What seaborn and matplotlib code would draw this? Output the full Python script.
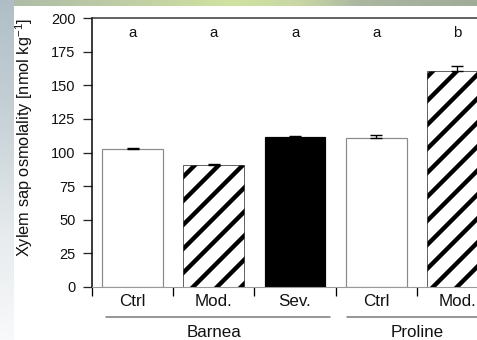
import numpy as np
import pandas as pd
import matplotlib
matplotlib.use("Agg")
import matplotlib.pyplot as plt
import matplotlib.transforms as mtransforms
import seaborn as sns

# ---- data ----
groups = ["Barnea", "Barnea", "Barnea", "Proline", "Proline"]
treatments = ["Ctrl", "Mod.", "Sev.", "Ctrl", "Mod."]
osmolality = [102.5, 90.5, 111.5, 110.5, 160.5]
sem = [0.6, 1.2, 0.6, 2.5, 4.0]
letters = ["a", "a", "a", "a", "b"]
yticks = [0, 25, 50, 75, 100, 125, 150, 175, 200]
group_names = ["Barnea", "Proline"]

DPI = 72
W, H = 477, 340


def pt(px):
    """pixels -> points at the output dpi"""
    return px * 72.0 / DPI


sns.set_style("ticks")
plt.rcParams["font.family"] = ["Liberation Sans", "DejaVu Sans"]
plt.rcParams["mathtext.fontset"] = "custom"
plt.rcParams["mathtext.rm"] = "Liberation Sans"
plt.rcParams["mathtext.default"] = "regular"
plt.rcParams["hatch.linewidth"] = pt(4.4)
plt.rcParams["hatch.color"] = "black"

fig = plt.figure(figsize=(W / DPI, H / DPI), dpi=DPI)

# ---- slide-like background ----
bg = fig.add_axes([0, 0, 1, 1], zorder=-10)
bg.axis("off")
img = np.ones((H, W, 3))
xs = np.arange(W)
top_kx = [0, 120, 230, 300, 360, 476]
top_r = [172, 190, 208, 200, 170, 160]
top_g = [186, 205, 226, 215, 182, 172]
top_b = [168, 165, 160, 165, 160, 152]
for r in range(6):
    img[r, :, 0] = np.interp(xs, top_kx, top_r) / 255
    img[r, :, 1] = np.interp(xs, top_kx, top_g) / 255
    img[r, :, 2] = np.interp(xs, top_kx, top_b) / 255
ys = np.arange(H)
left_ky = [0, 120, 240, 339]
lr = np.interp(ys, left_ky, [175, 200, 232, 248]) / 255
lg = np.interp(ys, left_ky, [190, 210, 236, 249]) / 255
lb = np.interp(ys, left_ky, [198, 215, 238, 250]) / 255
for c in range(14):
    img[:, c, 0] = lr
    img[:, c, 1] = lg
    img[:, c, 2] = lb
bg.imshow(img, aspect="auto", extent=(0, 1, 0, 1), interpolation="bilinear")
bg.set_xlim(0, 1)
bg.set_ylim(0, 1)

# ---- main axes (extends past the right edge, as in the reference) ----
ax = fig.add_axes([92 / W, 53 / H, 406 / W, 269 / H])
ax.set_facecolor("none")

df = pd.DataFrame({
    "id": [f"{g} {t}" for g, t in zip(groups, treatments)],
    "osm": osmolality,
})
sns.barplot(data=df, x="id", y="osm", color="white", saturation=1,
            edgecolor="#8a8a8a", linewidth=pt(1.2), width=0.75,
            errorbar=None, ax=ax)

for patch, t in zip(ax.patches, treatments):
    if t == "Sev.":
        patch.set_facecolor("black")
        patch.set_edgecolor("black")
    elif t == "Mod.":
        patch.set_facecolor("white")
        patch.set_edgecolor("black")
        patch.set_linewidth(pt(0.6))
        patch.set_hatch("/")

pos = np.arange(len(osmolality))
ax.errorbar(pos, osmolality, yerr=[np.zeros(len(sem)), sem], fmt="none",
            ecolor="black", elinewidth=pt(1.3), capsize=pt(6),
            capthick=pt(1.4), zorder=5)

ax.set_xlim(-0.5, len(osmolality) - 0.5)
ax.set_ylim(0, 200)
ax.set_yticks(yticks)
ax.set_yticklabels([str(v) for v in yticks])
ax.set_xticks(np.arange(len(osmolality) + 1) - 0.5)
ax.set_xticklabels([""] * (len(osmolality) + 1))
ax.set_xticks(pos, minor=True)
ax.set_xticklabels(treatments, minor=True)
ax.tick_params(axis="x", which="major", direction="out", length=pt(9),
               width=pt(1.3), color="black")
ax.tick_params(axis="x", which="minor", length=0, pad=pt(7.5),
               labelsize=pt(17), labelcolor="#111111")
ax.tick_params(axis="y", direction="out", length=pt(9), width=pt(1.3),
               pad=pt(7.5), labelsize=pt(14.5), labelcolor="#111111")
ax.set_xlabel("")
ax.set_ylabel("")

for s in ["left", "top"]:
    ax.spines[s].set_visible(True)
    ax.spines[s].set_color("black")
    ax.spines[s].set_linewidth(pt(1.5))
ax.spines["top"].set_color("#333333")
ax.spines["bottom"].set_color("#9a9a9a")
ax.spines["bottom"].set_linewidth(pt(1.1))
ax.spines["right"].set_visible(False)

# significance letters
for x, lt in zip(pos, letters):
    ax.text(x, 189, lt, ha="center", va="center", fontsize=pt(15),
            color="#111111")

# group underlines and labels
trans = mtransforms.blended_transform_factory(ax.transData, ax.transAxes)
group_spans = [(-0.33, 2.43), (2.64, 4.43)]
group_centers = [1.0, 3.5]
for name, (x0, x1), xc in zip(group_names, group_spans, group_centers):
    ax.plot([x0, x1], [-0.1115, -0.1115], transform=trans, clip_on=False,
            color="#777777", lw=pt(1.5))
    ax.text(xc, -0.168, name, transform=trans, ha="center", va="center",
            fontsize=pt(17), color="#111111")

fig.text(24 / W, 1 - 137 / H, "Xylem sap osmolality [nmol kg$^{-1}$]",
         rotation=90, ha="center", va="center", fontsize=pt(16.4),
         color="#111111")

fig.savefig("out.png", dpi=DPI)
